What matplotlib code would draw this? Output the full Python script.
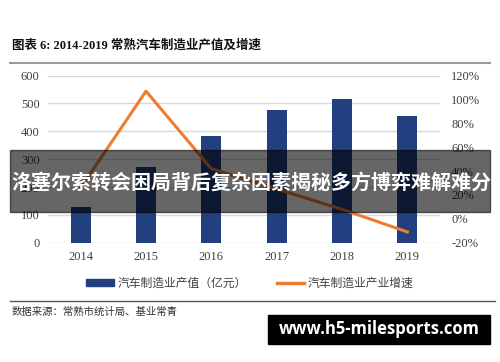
import matplotlib
matplotlib.use("Agg")
from matplotlib import pyplot as plt
from matplotlib.patches import Rectangle
from matplotlib.lines import Line2D

years = ["2014", "2015", "2016", "2017", "2018", "2019"]
output_value = [129, 273, 384, 477, 515, 455]          # 亿元
growth_rate = [26, 107, 42, 25, 8, -11]                 # %
left_ticks = [0, 100, 200, 300, 400, 500, 600]
right_ticks = [-20, 0, 20, 40, 60, 80, 100, 120]

serif_cjk = ["Liberation Serif", "Noto Sans CJK SC"]
cjk = ["Noto Sans CJK SC", "DejaVu Sans"]

fig = plt.figure(figsize=(5, 3.62), dpi=100)
ax = fig.add_axes([0.096, 0.3296, 0.784, 0.4614])
x = list(range(len(years)))
ax.bar(x, output_value, width=0.31, color="#22407f", zorder=2)
ax.set_xlim(-0.5, 5.5)
ax.set_ylim(0, 600)
ax.set_yticks(left_ticks)
ax.grid(axis="y", color="#d9d9d9", linewidth=1, zorder=0)
ax.set_xticks(x)
ax.set_xticklabels(years)
for s in ax.spines.values():
    s.set_visible(False)
ax.tick_params(length=0, labelsize=9, colors="#404040", pad=6)
for lab in ax.get_xticklabels() + ax.get_yticklabels():
    lab.set_family(serif_cjk)

ax2 = ax.twinx()
ax2.plot(x, growth_rate, color="#ed7d31", linewidth=2.2, zorder=3)
ax2.set_ylim(-20, 120)
ax2.set_yticks(right_ticks)
ax2.set_yticklabels([f"{v}%" for v in right_ticks])
for s in ax2.spines.values():
    s.set_visible(False)
ax2.tick_params(length=0, labelsize=9, colors="#404040", pad=8)
for lab in ax2.get_yticklabels():
    lab.set_family(serif_cjk)

# legend
handles = [Rectangle((0, 0), 1, 1, color="#22407f"),
           Line2D([0], [0], color="#ed7d31", linewidth=2.5)]
leg = fig.legend(handles, ["汽车制造业产值（亿元）", "汽车制造业产业增速"],
                 loc="center", bbox_to_anchor=(0.5, 1 - 283 / 362), ncol=2,
                 frameon=False, prop={"family": cjk, "size": 8.5},
                 handlelength=2.3, handleheight=0.5, columnspacing=2.6, handletextpad=0.3)
for t in leg.get_texts():
    t.set_color("#404040")

# title and rules
fig.text(12 / 500, 1 - 46 / 362, "图表 6: 2014-2019 常熟汽车制造业产值及增速",
         family=serif_cjk, fontsize=9, fontweight="bold", va="center", color="#111111")
fig.add_artist(Line2D([10 / 500, 490 / 500], [1 - 63 / 362] * 2, color="#9a9a9a", linewidth=1.5))
fig.add_artist(Line2D([10 / 500, 495 / 500], [1 - 301 / 362] * 2, color="#555555", linewidth=1))
fig.text(12 / 500, 1 - 312 / 362, "数据来源：常熟市统计局、基业常青",
         family=cjk, fontsize=7.5, va="center", color="#333333")

# overlay banner
fig.add_artist(Rectangle((10 / 500, 1 - 212 / 362), 480 / 500, 62 / 362,
                         transform=fig.transFigure, color="black", alpha=0.6, zorder=10))
fig.text(251 / 500, 1 - 182 / 362, "洛塞尔索转会困局背后复杂因素揭秘多方博弈难解难分",
         family=cjk, fontsize=14.4, fontweight="bold", color="white",
         ha="center", va="center", zorder=11)

# watermark box
fig.add_artist(Rectangle((268 / 500, 1 - 344 / 362), 222 / 500, 29 / 362,
                         transform=fig.transFigure, color="black", zorder=10))
fig.text(379 / 500, 1 - 329.5 / 362, "www.h5-milesports.com",
         family=["Open Sans", "DejaVu Sans"], fontsize=12, fontweight="bold",
         color="white", ha="center", va="center", zorder=11)

fig.savefig("out.png", dpi=100)
